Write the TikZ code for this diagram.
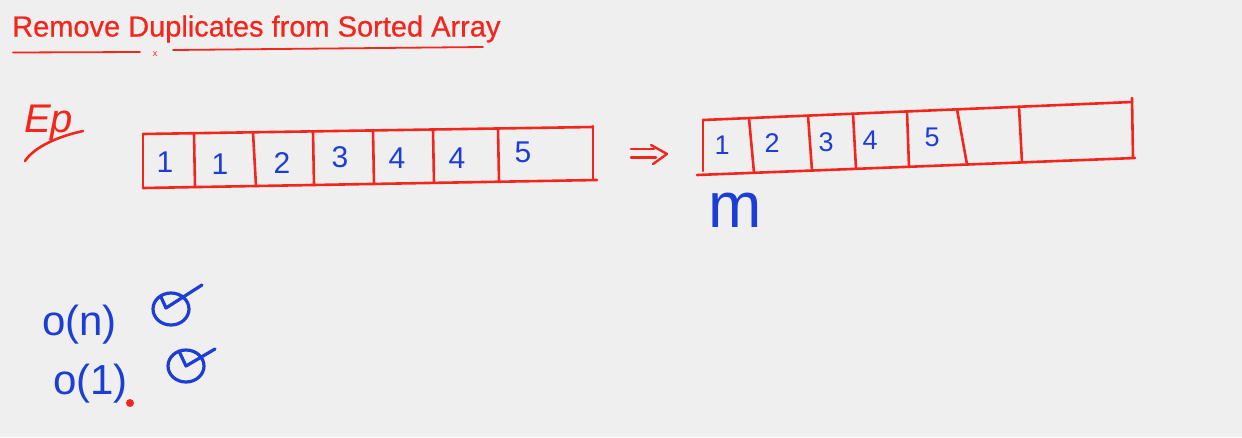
\documentclass[tikz,border=0pt]{standalone}
\usepackage{fontspec}
\setmainfont{Liberation Sans}
\definecolor{board}{HTML}{EFEFEF}
\definecolor{pen}{HTML}{F2261C}
\definecolor{ink}{HTML}{1C3ED6}
\begin{document}
\begin{tikzpicture}[x=1pt,y=-1pt,
  redpen/.style={draw=pen,line width=2.6pt,line cap=round,line join=round},
  thinred/.style={draw=pen,line width=1.8pt,line cap=round},
  bluepen/.style={draw=ink,line width=3.2pt,line cap=round,line join=round},
  numA/.style={text=ink,inner sep=0pt,anchor=center,font=\fontsize{30}{30}\selectfont},
  numB/.style={text=ink,inner sep=0pt,anchor=center,font=\fontsize{27}{27}\selectfont},
  bigo/.style={text=ink,inner sep=0pt,anchor=base west,font=\fontsize{42}{42}\selectfont}]
\fill[board] (0,0) rectangle (1242,437);
\useasboundingbox (0,0) rectangle (1242,437);

% title
\node[text=pen,inner sep=0pt,anchor=base west,font=\fontsize{29}{29}\selectfont\addfontfeatures{FakeBold=0.6}] (title) at (12,36.5) {Remove Duplicates from Sorted Array};
\draw[thinred] (13,52.5) -- (140,52);
\node[text=pen,inner sep=0pt,font=\fontsize{9}{9}\selectfont] (xmark) at (155,54) {x};
\draw[thinred] (173,50) -- (483,47);

% Ep
\node[text=pen,inner sep=0pt,anchor=base west,font=\fontsize{40}{40}\itshape] (ep) at (24,132) {Ep};
\draw[redpen] (25,161) .. controls (35,146) and (60,136) .. (83,131);

% array 1
\draw[redpen] (143,134) -- (143,188);
\draw[redpen] (143,134) -- (593,127);
\draw[redpen] (593,126) -- (593,180);
\draw[redpen] (143,188) -- (597,180);
\draw[redpen] (194,133.2) -- (195,187.1);
\draw[redpen] (253,132.3) -- (256,186.1);
\draw[redpen] (313,131.4) -- (314,185.0);
\draw[redpen] (373,130.4) -- (374,184.0);
\draw[redpen] (433,129.5) -- (434,182.9);
\draw[redpen] (498,128.5) -- (499,181.8);
\node[numA] (a1) at (165,162) {1};
\node[numA] (a2) at (220,164) {1};
\node[numA] (a3) at (282,163) {2};
\node[numA] (a4) at (340,157) {3};
\node[numA] (a5) at (397,158) {4};
\node[numA] (a6) at (457,158) {4};
\node[numA] (a7) at (523,152) {5};

% implies arrow
\draw[redpen,line width=2.4pt] (631,149) -- (654,149);
\draw[redpen,line width=2.4pt] (631,157.5) -- (656,157.5);
\draw[redpen,line width=2.4pt] (651,145) -- (667,154) -- (653,164);

% array 2
\draw[redpen] (703,120) -- (703,171);
\draw[redpen] (703,120) -- (1132,102);
\draw[redpen] (1132,98) -- (1133,158);
\draw[redpen] (697,175) -- (1135,158);
\draw[redpen] (749,118.1) -- (754,172.8);
\draw[redpen] (808,115.6) -- (812,170.4);
\draw[redpen] (853,113.7) -- (856,168.7);
\draw[redpen] (907,111.4) -- (909,166.7);
\draw[redpen] (957,109.3) -- (967,164.4);
\draw[redpen] (1019,106.7) -- (1022,162.3);
\node[numB] (b1) at (722,145) {1};
\node[numB] (b2) at (772,143) {2};
\node[numB] (b3) at (826,142) {3};
\node[numB] (b4) at (870,140) {4};
\node[numB] (b5) at (932,137) {5};
\node[text=ink,inner sep=0pt,anchor=base west,font=\fontsize{64}{64}\selectfont] (m) at (708,227) {m};

% complexities
\node[bigo] (on) at (42,335) {o(n)};
\node[bigo] (o1) at (53,394) {o(1)};
\draw[bluepen] (171,309) circle[x radius=18, y radius=16];
\draw[bluepen] (161,297) -- (166,308) -- (202,285);
\draw[bluepen] (186,366) circle[x radius=18, y radius=16];
\draw[bluepen] (179,351) -- (186,366) -- (215,349);
\fill[pen] (130,403) circle[radius=4];
\end{tikzpicture}
\end{document}
